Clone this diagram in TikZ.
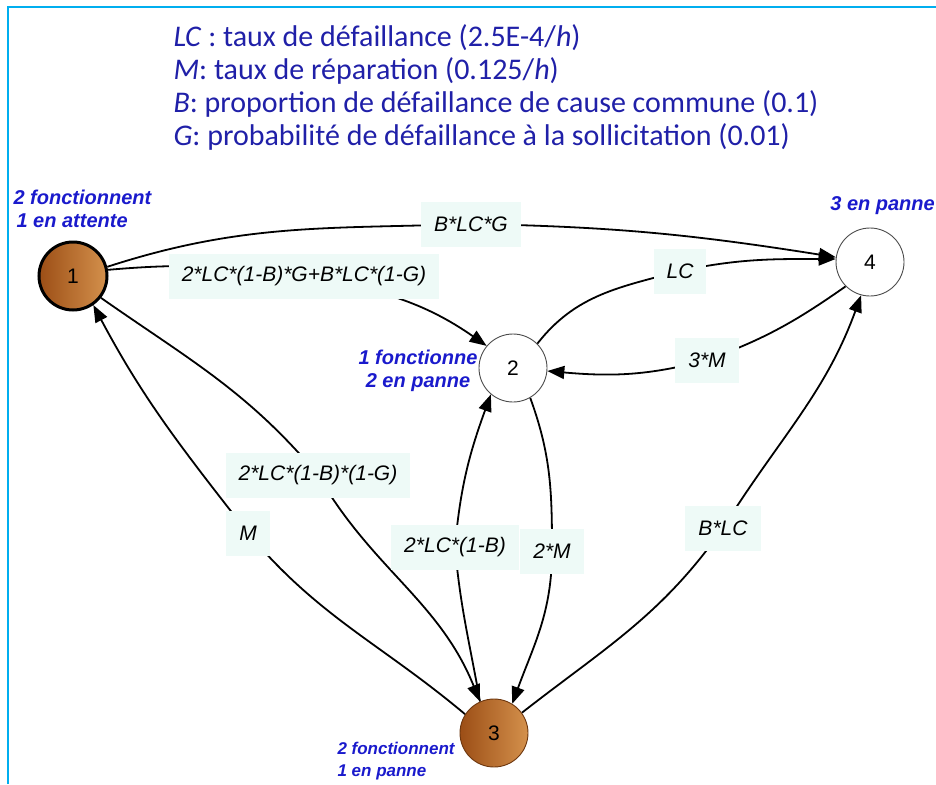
\documentclass[tikz,border=0pt]{standalone}
\usepackage{fontspec}
\setmainfont{Liberation Sans}
\newfontfamily\hdfont{Carlito}
\usetikzlibrary{arrows.meta, backgrounds}
\definecolor{frameblue}{HTML}{00AEEF}
\definecolor{hdblue}{HTML}{2020A8}
\definecolor{txtblue}{HTML}{1A1ACC}
\definecolor{lblbg}{HTML}{EEFAF7}
\definecolor{brownA}{HTML}{9C4E16}
\definecolor{brownB}{HTML}{D4914C}

\begin{document}
\begin{tikzpicture}[x=1pt,y=1pt]
  \tikzset{state/.style={circle,draw=black!70,line width=0.9pt,fill=white,minimum size=68pt,inner sep=0pt,font=\fontsize{21}{24}\selectfont},
    busy/.style={state,left color=brownA,right color=brownB},
    tag/.style={fill=lblbg,minimum height=45pt,inner xsep=13pt,font=\fontsize{21}{24}\selectfont\itshape},
    info/.style={text=txtblue,font=\fontsize{20}{23}\selectfont\bfseries\itshape},
    trans/.style={line width=1.8pt,-{Triangle[length=17pt,width=13pt]}}}
  \useasboundingbox (0,0) rectangle (936,-784);
  \draw[frameblue,line width=2.5pt] (8,-784) -- (8,-7) -- (936,-7);
  % legend
  \node[anchor=north west,align=left,text=hdblue,font=\hdfont\fontsize{30}{33}\selectfont] (hdr) at (170,-21)
    {\textit{LC} : taux de défaillance (2.5E-4/\textit{h})\\
     \textit{M}: taux de réparation (0.125/\textit{h})\\
     \textit{B}: proportion de défaillance de cause commune (0.1)\\
     \textit{G}: probabilité de défaillance à la sollicitation (0.01)};
  % states
  \node[busy,draw=black,line width=3pt] (n1) at (73,-276) {1};
  \node[state] (n2) at (513,-368) {2};
  \node[busy,draw=brownA!70!black] (n3) at (494,-733) {3};
  \node[state] (n4) at (870,-262) {4};
  \node[info,anchor=west,align=left] (s1) at (10,-209) {2 fonctionnent\\\hspace*{3pt}1 en attente};
  \node[info,align=center] (s2) at (418,-371) {1 fonctionne\\2 en panne};
  \node[info,anchor=east,inner xsep=1pt] (s4) at (936,-206) {3 en panne};
  \node[info,anchor=west,align=left,font=\fontsize{17}{22}\selectfont\bfseries\itshape] (s3) at (334,-761) {2 fonctionnent\\1 en panne};
  % rates
  \node[tag] (lBLG) at (471,-224) {B*LC*G};
  \node[tag] (lA) at (304,-276) {2*LC*(1-B)*G+B*LC*(1-G)};
  \node[tag] (lLC) at (680,-271) {LC};
  \node[tag] (l3M) at (707,-360) {3*M};
  \node[tag] (lC) at (318,-475) {2*LC*(1-B)*(1-G)};
  \node[tag] (lM) at (248,-533) {M};
  \node[tag] (l2LC) at (455,-547) {2*LC*(1-B)};
  \node[tag] (l2M) at (552,-551) {2*M};
  \node[tag] (lBLC) at (723,-528) {B*LC};
  \begin{scope}[on background layer]
    \draw[trans] (n1.15) to[out=18,in=182] (lBLG.center) to[out=-1,in=171] (n4.172);
    \draw[trans] (n1.10) to[out=5,in=172] (lA.center) to[out=-10,in=145] (n2.140);
    \draw[trans] (n2.45) to[out=52,in=195] (lLC.center) to[out=12,in=180] (n4.175);
    \draw[trans] (n4.225) to[out=215,in=20] (l3M.center) to[out=195,in=-5] (n2.-5);
    \draw[trans] (n1.-38) to[out=-35,in=130] (lC.center) to[out=-60,in=112] (n3.114);
    \draw[trans] (n3.147) to[out=140,in=-50] (lM.center) to[out=128,in=-62] (n1.-55);
    \draw[trans] (n3.114) to[out=100,in=-85] (l2LC.center) to[out=85,in=-110] (n2.-130);
    \draw[trans] (n2.-60) to[out=-70,in=90] (l2M.center) to[out=-90,in=70] (n3.58);
    \draw[trans] (n3.36) to[out=38,in=-125] (lBLC.center) to[out=58,in=-110] (n4.-105);
  \end{scope}
\end{tikzpicture}
\end{document}
